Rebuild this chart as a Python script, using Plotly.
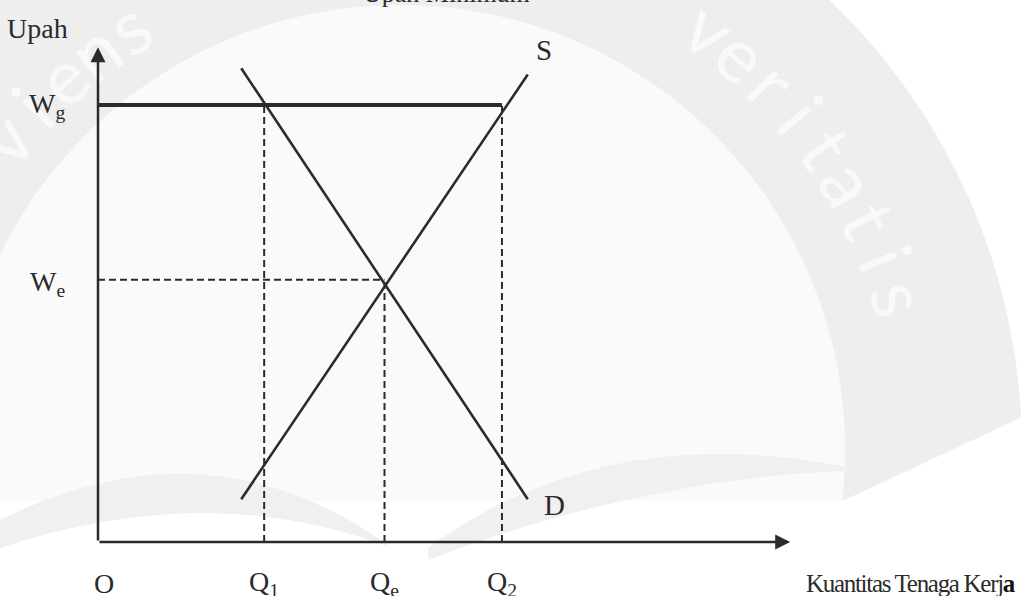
import numpy as np
import plotly.graph_objects as go

# ---- labour-market diagram values -------------------------------------
W_G = 5.0      # minimum wage set by government
W_E = 3.0      # equilibrium wage
Q_1 = 2.9      # labour demanded at W_G
Q_E = 5.0      # equilibrium quantity
Q_2 = 7.05     # labour supplied at W_G

demand_q = [2.5, 7.5]
demand_w = [5.42, 0.49]
supply_q = [2.5, 7.5]
supply_w = [0.49, 5.35]

q_axis_end = 12.08
w_axis_end = 5.66

q_tick_labels = ["O", "Q<sub>1</sub>", "Q<sub>e</sub>", "Q<sub>2</sub>"]
w_tick_labels = ["W<sub>g</sub>", "W<sub>e</sub>"]

# ---- figure frame -----------------------------------------------------
WIDTH, HEIGHT = 1021, 596
X_RANGE = [-1.7103, 16.108]
Y_RANGE = [-0.6178, 6.2014]

INK = "#2b2b2b"
SERIF = "Liberation Serif, Times New Roman, serif"

fig = go.Figure()

dash = "7px,4px"

# dashed guide lines
fig.add_trace(go.Scatter(x=[0, Q_E], y=[W_E, W_E], mode="lines",
                         line=dict(color=INK, width=2, dash=dash)))
for q, w in [(Q_1, W_G), (Q_E, W_E), (Q_2, W_G)]:
    fig.add_trace(go.Scatter(x=[q, q], y=[0, w], mode="lines",
                             line=dict(color=INK, width=2, dash=dash)))

# minimum-wage line
fig.add_trace(go.Scatter(x=[0, Q_2], y=[W_G, W_G], mode="lines",
                         line=dict(color=INK, width=3.8)))

# demand and supply
fig.add_trace(go.Scatter(x=demand_q, y=demand_w, mode="lines",
                         line=dict(color=INK, width=2.6)))
fig.add_trace(go.Scatter(x=supply_q, y=supply_w, mode="lines",
                         line=dict(color=INK, width=2.6)))

# ---- faint background emblem -----------------------------------------
def to_paper(px, py):
    return px / WIDTH, 1 - py / HEIGHT

CX, CY = 400, 450

def arc_pts(r, a0, a1, n=160):
    out = []
    for a in np.linspace(a0, a1, n):
        t = np.radians(a)
        out.append(to_paper(CX + r * np.cos(t), CY - r * np.sin(t)))
    return out

def path_from(pts):
    s = "M {:.5f},{:.5f}".format(*pts[0])
    for p in pts[1:]:
        s += " L {:.5f},{:.5f}".format(*p)
    return s + " Z"

def curve_path(cmds):
    # cmds: list of (letter, [px, py, ...]) in pixel space
    s = ""
    for c, pts in cmds:
        s += c + " "
        coords = []
        for i in range(0, len(pts), 2):
            x, y = to_paper(pts[i], pts[i + 1])
            coords.append("{:.5f},{:.5f}".format(x, y))
        s += " ".join(coords) + " "
    return s + "Z"

shapes = []
inner = arc_pts(445, -6.6, 186.6)
shapes.append(dict(type="path", xref="paper", yref="paper", layer="below",
                   path=path_from(inner), fillcolor="#fafafa", line=dict(width=0)))
ring = arc_pts(622, 3, 177) + arc_pts(445, 186.6, -6.6)
shapes.append(dict(type="path", xref="paper", yref="paper", layer="below",
                   path=path_from(ring), fillcolor="#eeeeee", line=dict(width=0)))

# open-book leaves at the foot of the emblem
shapes.append(dict(type="path", xref="paper", yref="paper", layer="below",
                   path=curve_path([("M", [0, 520]), ("Q", [210, 415, 392, 548]),
                                    ("Q", [210, 478, 0, 548])]),
                   fillcolor="#f0f0f0", line=dict(width=0)))
shapes.append(dict(type="path", xref="paper", yref="paper", layer="below",
                   path=curve_path([("M", [428, 548]), ("Q", [610, 415, 860, 470]),
                                    ("Q", [640, 478, 428, 560])]),
                   fillcolor="#f0f0f0", line=dict(width=0)))

def letters_on_ring(word, start, step, r=522, size=76):
    for i, ch in enumerate(word):
        a = start + i * step
        t = np.radians(a)
        px, py = to_paper(CX + r * np.cos(t), CY - r * np.sin(t))
        shapes.append(dict(
            type="rect", xref="paper", yref="paper", layer="below",
            x0=px - 0.001, x1=px + 0.001, y0=py - 0.001, y1=py + 0.001,
            line=dict(width=0), fillcolor="rgba(0,0,0,0)",
            label=dict(text=ch, textangle=90 - a, textposition="middle center",
                       font=dict(family="Lato, sans-serif", size=size,
                                 color="#f9f9f9", weight=400))))

letters_on_ring("viens", 122.6 + 4 * 4.8, -4.8, r=505)
letters_on_ring("veritatis", 53.7, -4.6, r=525)

# ---- axes with arrowheads --------------------------------------------
ann = []
ann.append(dict(x=0, y=w_axis_end, ax=0, ay=0, xref="x", yref="y", axref="x", ayref="y",
                text="", showarrow=True, arrowhead=2, arrowsize=1.2, arrowwidth=2.5,
                arrowcolor=INK, standoff=0, startstandoff=0))
ann.append(dict(x=q_axis_end, y=0, ax=0, ay=0, xref="x", yref="y", axref="x", ayref="y",
                text="", showarrow=True, arrowhead=2, arrowsize=1.2, arrowwidth=2.5,
                arrowcolor=INK, standoff=0, startstandoff=0))

label_font = dict(family=SERIF, size=28, color=INK)
bottom_font = dict(family=SERIF, size=28, color=INK)

# quantity labels under the axis
for q, lab in zip([0, Q_1, Q_E, Q_2], q_tick_labels):
    ann.append(dict(x=q, y=0, xref="x", yref="y", text=lab, showarrow=False,
                    xanchor="center", yanchor="middle", yshift=-41,
                    xshift=6 if q == 0 else 0, font=bottom_font))

# wage labels left of the axis
for w, lab, dy in zip([W_G, W_E], w_tick_labels, [0, -4]):
    ann.append(dict(x=0, y=w, xref="x", yref="y", text=lab, showarrow=False,
                    xanchor="right", yanchor="middle", xshift=-31, yshift=dy,
                    font=label_font))

# axis titles
ann.append(dict(x=0, y=w_axis_end, xref="x", yref="y", text="Upah", showarrow=False,
                xanchor="center", yanchor="middle", xshift=-61, yshift=19,
                font=dict(family=SERIF, size=28, color=INK)))
ann.append(dict(x=1018 / WIDTH, y=0, xref="paper", yref="y",
                text="<span style='letter-spacing:-1.3px'>Kuantitas Tenaga Kerj"
                     "<b><span style='color:#111'>a</span></b></span>",
                showarrow=False, xanchor="right", yanchor="middle", yshift=-41,
                font=dict(family=SERIF, size=25, color=INK)))

# curve labels
ann.append(dict(x=supply_q[-1], y=supply_w[-1], xref="x", yref="y", text="S",
                showarrow=False, xanchor="center", yanchor="middle",
                xshift=16, yshift=24, font=dict(family=SERIF, size=29, color=INK)))
ann.append(dict(x=demand_q[-1], y=demand_w[-1], xref="x", yref="y", text="D",
                showarrow=False, xanchor="center", yanchor="middle",
                xshift=27, yshift=-6, font=dict(family=SERIF, size=29, color=INK)))

# caption running off the top edge
ann.append(dict(x=446 / WIDTH, y=1 - 10 / HEIGHT, xref="paper", yref="paper",
                text="Upah Minimum", showarrow=False, xanchor="center", yanchor="bottom",
                font=dict(family=SERIF, size=26, color=INK)))

fig.update_layout(
    width=WIDTH, height=HEIGHT, autosize=False,
    margin=dict(l=0, r=0, t=0, b=0, pad=0),
    paper_bgcolor="white", plot_bgcolor="white",
    showlegend=False,
    xaxis=dict(range=X_RANGE, visible=False, fixedrange=True),
    yaxis=dict(range=Y_RANGE, visible=False, fixedrange=True),
    shapes=shapes, annotations=ann,
)

fig.write_html("out.html", config=dict(displayModeBar=False))
